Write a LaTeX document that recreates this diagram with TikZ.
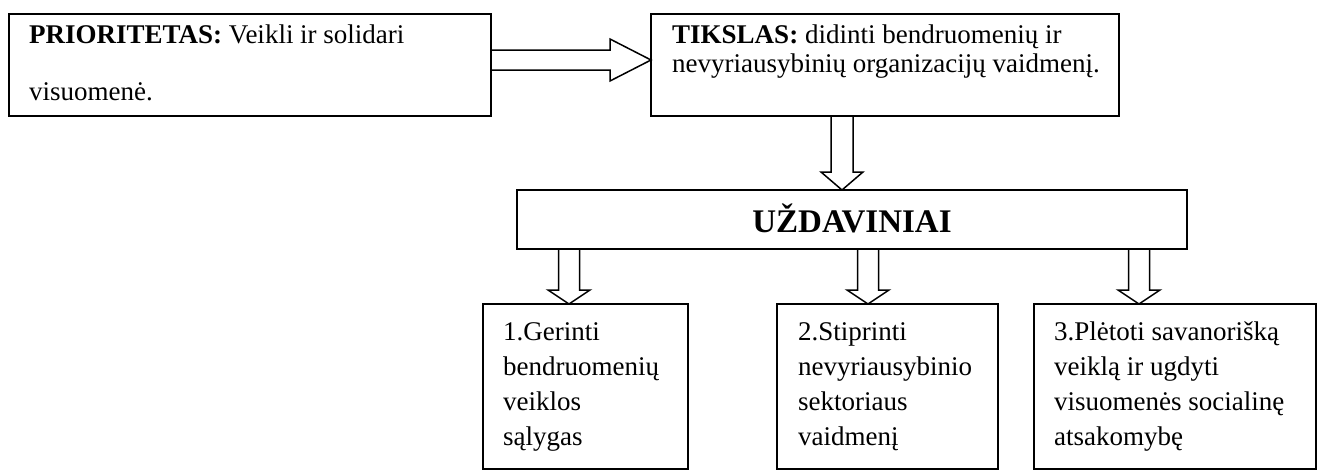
\documentclass[tikz,border=0pt]{standalone}
\usepackage{fontspec}
\setmainfont{Liberation Serif}
\usetikzlibrary{calc}

% block arrows: #1 start, #2 tip, #3 shaft half-width, #4 head half-width, #5 head length
\newcommand\blkdown[5]{%
  \draw[blkarrow] ($(#1)+(-#3,0)$) -- ($(#2)+(-#3,-#5)$) -- ($(#2)+(-#4,-#5)$) -- (#2)
    -- ($(#2)+(#4,-#5)$) -- ($(#2)+(#3,-#5)$) -- ($(#1)+(#3,0)$);}
\newcommand\blkright[5]{%
  \draw[blkarrow] ($(#1)+(0,-#3)$) -- ($(#2)+(-#5,-#3)$) -- ($(#2)+(-#5,-#4)$) -- (#2)
    -- ($(#2)+(-#5,#4)$) -- ($(#2)+(-#5,#3)$) -- ($(#1)+(0,#3)$);}

\begin{document}
\begin{tikzpicture}[x=1pt,y=-1pt,
  box/.style={draw, rectangle, line width=1.8pt, inner sep=0pt, outer sep=0pt},
  blkarrow/.style={draw, line width=1.5pt, line join=miter},
  txt/.style={anchor=base west, inner sep=0pt, font=\fontsize{27}{35}\selectfont},
  head/.style={anchor=base, inner sep=0pt, font=\fontsize{33}{40}\selectfont\bfseries}]
\useasboundingbox (0,0) rectangle (1320,471);

% boxes
\node[box, minimum width=482pt, minimum height=102pt] (P) at (250,65) {};
\node[box, minimum width=468pt, minimum height=102pt] (T) at (885,65) {};
\node[box, minimum width=670pt, minimum height=59pt] (U) at (852,219.5) {};
\node[box, minimum width=205pt, minimum height=165pt] (B1) at (585.5,386.5) {};
\node[box, minimum width=221pt, minimum height=165pt] (B2) at (887.5,386.5) {};
\node[box, minimum width=282pt, minimum height=165pt] (B3) at (1175,386.5) {};

% texts
\node[txt] (p1) at (29,43) {\textbf{PRIORITETAS:} Veikli ir solidari};
\node[txt] (p2) at (29,100) {visuomenė.};
\node[txt] (t1) at (672,43) {\textbf{TIKSLAS:} didinti bendruomenių ir};
\node[txt] (t2) at (672,72) {nevyriausybinių organizacijų vaidmenį.};
\node[head] (u1) at (852,232) {UŽDAVINIAI};

\foreach \s [count=\i] in {1.Gerinti, bendruomenių, veiklos, sąlygas}
  \node[txt] (a\i) at (503,305+35*\i) {\s};
\foreach \s [count=\i] in {2.Stiprinti, nevyriausybinio, sektoriaus, vaidmenį}
  \node[txt] (b\i) at (798,305+35*\i) {\s};
\foreach \s [count=\i] in {3.Plėtoti savanorišką, veiklą ir ugdyti, visuomenės socialinę, atsakomybę}
  \node[txt] (c\i) at (1054,305+35*\i) {\s};

% connectors
\coordinate (pt0) at (P.east |- 0,60);
\coordinate (pt1) at (T.west |- 0,60);
\blkright{pt0}{pt1}{10}{21}{41}

\coordinate (tu0) at (842,0 |- T.south);
\coordinate (tu1) at (842,0 |- U.north);
\blkdown{tu0}{tu1}{11}{21}{18}

\coordinate (u10) at (569,0 |- U.south);
\coordinate (u11) at (569,0 |- B1.north);
\blkdown{u10}{u11}{10.5}{21}{14}
\coordinate (u20) at (868,0 |- U.south);
\coordinate (u21) at (868,0 |- B2.north);
\blkdown{u20}{u21}{10.5}{21}{14}
\coordinate (u30) at (1139,0 |- U.south);
\coordinate (u31) at (1139,0 |- B3.north);
\blkdown{u30}{u31}{10.5}{21}{14}
\end{tikzpicture}
\end{document}
